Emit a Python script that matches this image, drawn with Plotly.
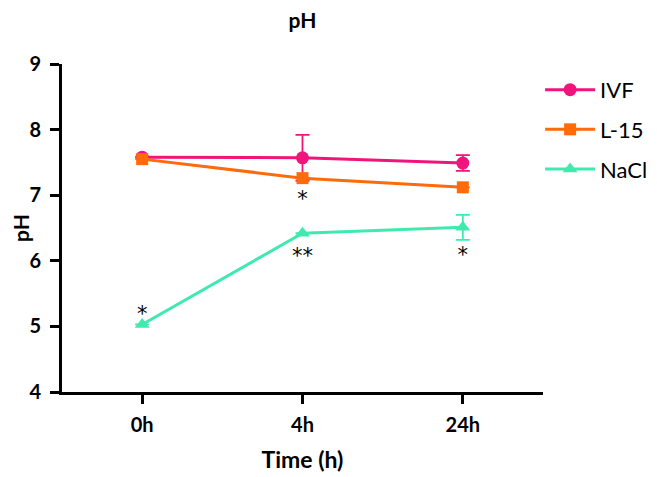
import plotly.graph_objects as go

times = ["0h", "4h", "24h"]
ivf = [7.58, 7.57, 7.49]
ivf_err = [0.0, 0.35, 0.12]
l15 = [7.55, 7.26, 7.12]
l15_err = [0.0, 0.0, 0.0]
nacl = [5.03, 6.42, 6.51]
nacl_err = [0.0, 0.0, 0.19]

sig_x = ["0h", "4h", "4h", "24h"]
sig_y = [5.17, 6.92, 6.04, 6.06]
sig_text = ["*", "*", "**", "*"]

colors = {"IVF": "#F0157C", "L-15": "#FF6A0A", "NaCl": "#3EEAAE"}

fig = go.Figure()
series = [
    ("IVF", ivf, ivf_err, "circle", 13),
    ("L-15", l15, l15_err, "square", 12),
    ("NaCl", nacl, nacl_err, "triangle-up", 13),
]
for name, vals, err, sym, size in series:
    fig.add_trace(go.Scatter(
        x=times, y=vals, name=name, mode="lines+markers",
        line=dict(color=colors[name], width=3),
        marker=dict(symbol=sym, size=size, color=colors[name]),
        error_y=dict(type="data", array=err, visible=True, color=colors[name],
                     thickness=1.8, width=7),
        legendgroup=name,
    ))

fig.add_trace(go.Scatter(
    x=sig_x, y=sig_y, mode="text", text=sig_text, showlegend=False,
    textfont=dict(size=21, color="black", family="DejaVu Sans"),
    hoverinfo="skip",
))

fig.update_layout(
    width=657, height=477,
    margin=dict(l=54, r=115, t=56, b=93),
    paper_bgcolor="white", plot_bgcolor="white",
    font=dict(family="Lato", color="black"),
    title=dict(text="<b>pH</b>", xref="paper", x=0.5, xanchor="center",
               y=0.973, yanchor="middle", font=dict(size=21, family="Lato")),
    legend=dict(x=0.994, y=0.985, xanchor="left", yanchor="top",
                font=dict(size=22, family="Lato"),
                tracegroupgap=8, itemwidth=50, bgcolor="rgba(0,0,0,0)"),
    showlegend=True,
)
fig.update_xaxes(
    type="category", range=[-0.5, 2.5], automargin=False,
    showline=True, linecolor="black", linewidth=3,
    ticks="outside", ticklen=9, tickwidth=3, tickcolor="black",
    ticklabelstandoff=4,
    tickfont=dict(size=20, family="Lato", weight="bold"),
    title=dict(text="<b>Time (h)</b>", font=dict(size=23), standoff=17),
    showgrid=False, zeroline=False,
)
fig.update_yaxes(
    range=[4, 9], tickvals=[4, 5, 6, 7, 8, 9], automargin=False,
    showline=True, linecolor="black", linewidth=3,
    ticks="outside", ticklen=9, tickwidth=3, tickcolor="black",
    ticklabelstandoff=5,
    tickfont=dict(size=20, family="Lato", weight="bold"),
    title=dict(text="<b>pH</b>", font=dict(size=21), standoff=14),
    showgrid=False, zeroline=False,
)

fig.write_html("out.html")
